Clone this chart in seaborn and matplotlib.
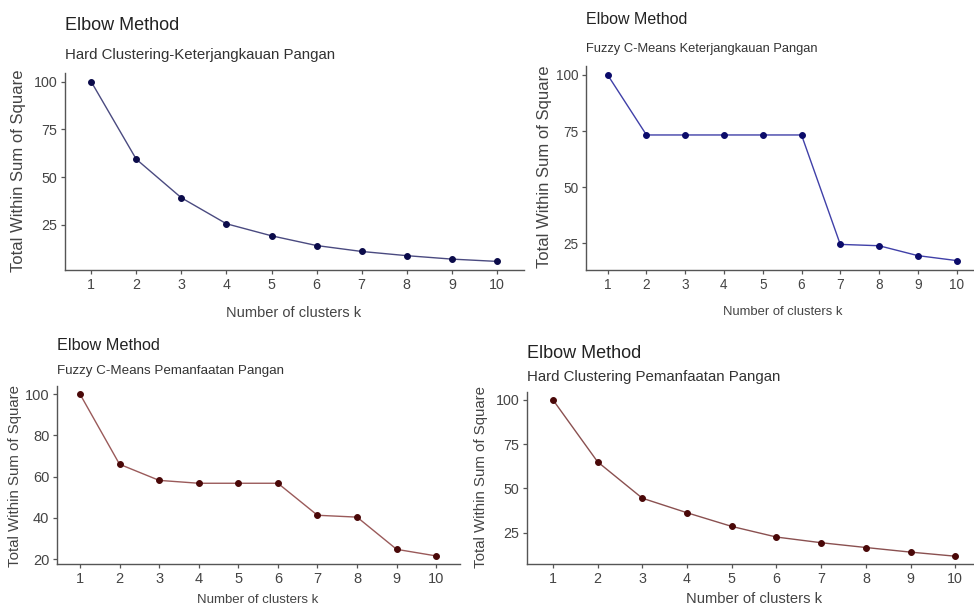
import matplotlib
matplotlib.use("Agg")
from matplotlib import pyplot as plt
import seaborn as sns

# number of clusters k
k = [1, 2, 3, 4, 5, 6, 7, 8, 9, 10]

# total within sum of square
hard_keterjangkauan = [100, 59.4, 39.2, 25.6, 19.3, 14.2, 11.1, 8.9, 7.1, 5.9]
fuzzy_keterjangkauan = [100, 73.3, 73.3, 73.3, 73.3, 73.3, 24.6, 24.0, 19.6, 17.4]
fuzzy_pemanfaatan = [100, 66.0, 58.2, 56.8, 56.8, 56.8, 41.3, 40.4, 24.8, 21.6]
hard_pemanfaatan = [100, 65.0, 44.5, 36.3, 28.6, 22.6, 19.4, 16.7, 14.1, 11.8]

titles = ["Elbow Method"] * 4
subtitles = ["Hard Clustering-Keterjangkauan Pangan",
             "Fuzzy C-Means Keterjangkauan Pangan",
             "Fuzzy C-Means Pemanfaatan Pangan",
             "Hard Clustering Pemanfaatan Pangan"]
y_ticks = [[25, 50, 75, 100], [25, 50, 75, 100],
           [20, 40, 60, 80, 100], [25, 50, 75, 100]]
xlab = "Number of clusters k"
ylab = "Total Within Sum of Square"

sns.set_theme(style="white")
plt.rcParams["font.family"] = ["Liberation Sans", "DejaVu Sans"]

W, H = 974, 610
fig = plt.figure(figsize=(W / 100, H / 100), dpi=100)
fig.patch.set_facecolor("white")


def px_axes(left, top, right, bottom):
    return fig.add_axes([left / W, 1 - bottom / H, (right - left) / W, (bottom - top) / H])


def ftext(x, y, s, **kw):
    fig.text(x / W, 1 - y / H, s, **kw)


panels = [
    # data, box(l,t,r,b) in pixels, limits, colours, font sizes, text anchors
    dict(y=hard_keterjangkauan, box=(65, 73, 524, 270), ylim=(1.4, 104.5), xlim=(0.42, 10.6),
         line="#4a4a80", dot="#0b0b4a", tsz=13, ssz=10.8, ksz=10.3, lsz=12.0, xsz=10.5,
         title=(65, 26), sub=(65, 55), ylp=(19, 171), xlp=(294, 313)),
    dict(y=fuzzy_keterjangkauan, box=(586, 66, 974, 270), ylim=(13.2, 104), xlim=(0.44, 10.45),
         line="#4040a8", dot="#0b0b6a", tsz=11.5, ssz=9.3, ksz=9.8, lsz=12.0, xsz=9.4,
         title=(586, 20), sub=(586, 49), ylp=(545, 167), xlp=(783, 312)),
    dict(y=fuzzy_pemanfaatan, box=(57, 386, 460, 564), ylim=(17.7, 103.9), xlim=(0.42, 10.6),
         line="#9a5a5a", dot="#4a0808", tsz=11.7, ssz=9.6, ksz=10.5, lsz=10.8, xsz=9.5,
         title=(57, 345), sub=(57, 371), ylp=(15, 476), xlp=(258, 600)),
    dict(y=hard_pemanfaatan, box=(527, 392, 974, 564), ylim=(7.4, 104.4), xlim=(0.42, 10.42),
         line="#8a5050", dot="#4a0808", tsz=13, ssz=10.8, ksz=10.3, lsz=10.8, xsz=10.6,
         title=(527, 353), sub=(527, 377), ylp=(481, 477), xlp=(754, 599)),
]

for i, p in enumerate(panels):
    ax = px_axes(*p["box"])
    sns.lineplot(x=k, y=p["y"], ax=ax, color=p["line"], linewidth=1.0,
                 marker="o", markersize=4.2, markerfacecolor=p["dot"],
                 markeredgecolor=p["dot"])
    ax.set_xlim(*p["xlim"])
    ax.set_ylim(*p["ylim"])
    ax.set_xticks(k)
    ax.set_yticks(y_ticks[i])
    ax.set_xlabel("")
    ax.set_ylabel("")
    ax.set_facecolor("white")
    for s in ["top", "right"]:
        ax.spines[s].set_visible(False)
    for s in ["left", "bottom"]:
        ax.spines[s].set_color("#555555")
        ax.spines[s].set_linewidth(1.0)
    ax.tick_params(axis="both", which="major", direction="out", length=3, width=0.9,
                   color="#555555", labelcolor="#444444", labelsize=p["ksz"], pad=2.5,
                   left=True, bottom=True)

    ftext(*p["title"], titles[i], fontsize=p["tsz"], color="#222222",
          ha="left", va="center")
    ftext(*p["sub"], subtitles[i], fontsize=p["ssz"], color="#333333",
          ha="left", va="center")
    ftext(*p["ylp"], ylab, fontsize=p["lsz"], color="#444444",
          ha="center", va="center", rotation=90)
    ftext(*p["xlp"], xlab, fontsize=p["xsz"], color="#444444",
          ha="center", va="center")

fig.savefig("out.png", dpi=100, facecolor="white")
